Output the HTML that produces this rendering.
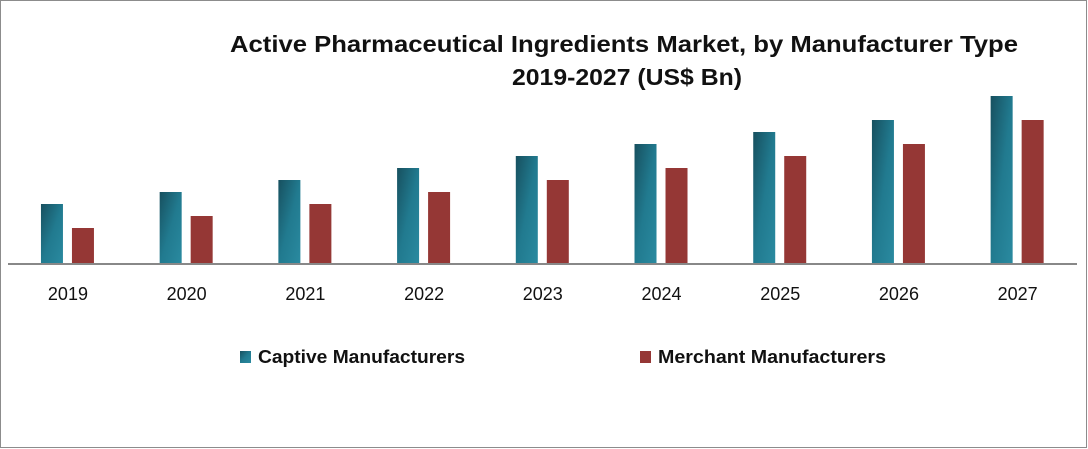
<!DOCTYPE html>
<html><head><meta charset="utf-8"><style>
body{margin:0;background:#fff}
svg{display:block;font-family:"Liberation Sans",sans-serif}
</style></head><body>
<svg id="chart" width="1088" height="449">
<defs>
<linearGradient id="tg" x1="0" y1="0" x2="1" y2="1"><stop offset="0" stop-color="#17505f"/><stop offset="0.5" stop-color="#217a8f"/><stop offset="1" stop-color="#2a8aa0"/></linearGradient>
</defs>
<rect x="0.5" y="0.5" width="1086" height="447" fill="#fff" stroke="#8c8c8c"/>
<text x="230" y="52" textLength="788" lengthAdjust="spacingAndGlyphs" font-size="23" font-weight="bold" fill="#111">Active Pharmaceutical Ingredients Market, by Manufacturer Type</text>
<text x="512" y="85" textLength="230" lengthAdjust="spacingAndGlyphs" font-size="23" font-weight="bold" fill="#111">2019-2027 (US$ Bn)</text>
<g id="bars"></g>
<line x1="8" y1="264" x2="1077" y2="264" stroke="#888" stroke-width="2"/>
<g id="labels"></g>
<rect x="240" y="351" width="11" height="12" fill="url(#tg)"/>
<text x="258" y="363" textLength="207" lengthAdjust="spacingAndGlyphs" font-size="18" font-weight="bold" fill="#111">Captive Manufacturers</text>
<rect x="640" y="351" width="11" height="12" fill="#953735"/>
<text x="658" y="363" textLength="228" lengthAdjust="spacingAndGlyphs" font-size="18" font-weight="bold" fill="#111">Merchant Manufacturers</text>
</svg>
<script>
const categories=["2019","2020","2021","2022","2023","2024","2025","2026","2027"];
const captive=[5,6,7,8,9,10,11,12,14];
const merchant=[3,4,5,6,7,8,9,10,12];
const NS="http://www.w3.org/2000/svg";
const left=8.6,right=1077,base=264,unit=12;
const step=(right-left)/categories.length;
const x=i=>left+step*(i+0.5);
const y=v=>base-v*unit;
const bars=document.getElementById('bars'),labels=document.getElementById('labels');
categories.forEach((c,i)=>{
  const cx=x(i);
  const r1=document.createElementNS(NS,'rect');
  r1.setAttribute('x',cx-27);r1.setAttribute('width',22);
  r1.setAttribute('y',y(captive[i]));r1.setAttribute('height',base-y(captive[i]));
  r1.setAttribute('fill','url(#tg)');
  
  
  bars.appendChild(r1);
  const r2=document.createElementNS(NS,'rect');
  r2.setAttribute('x',cx+4);r2.setAttribute('width',22);
  r2.setAttribute('y',y(merchant[i]));r2.setAttribute('height',base-y(merchant[i]));
  r2.setAttribute('fill','#953735');
  
  
  bars.appendChild(r2);
  const t=document.createElementNS(NS,'text');
  t.setAttribute('x',cx);t.setAttribute('y',300);t.setAttribute('text-anchor','middle');
  t.setAttribute('font-size','18');t.setAttribute('fill','#111');
  t.textContent=c;
  
  
  labels.appendChild(t);
});
</script>
</body></html>
